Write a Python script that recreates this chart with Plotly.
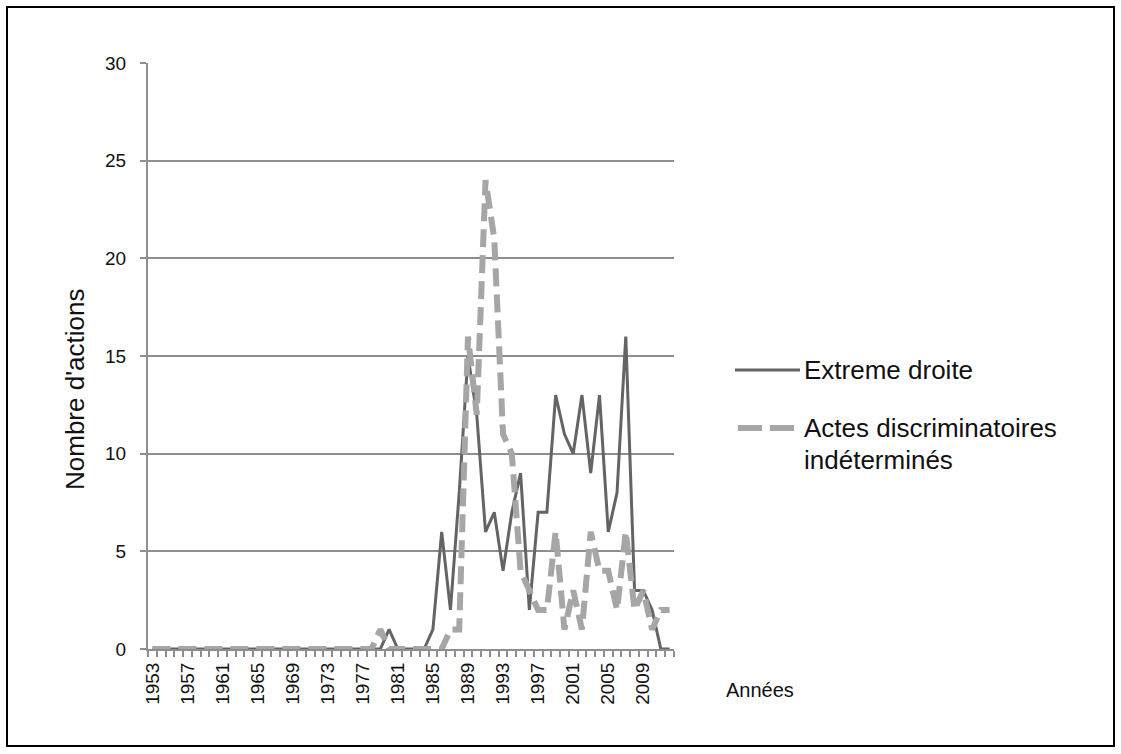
import plotly.graph_objects as go

# data
years = list(range(1953, 2013))
extreme_droite = [0, 0, 0, 0, 0, 0, 0, 0, 0, 0, 0, 0, 0, 0, 0, 0, 0, 0, 0, 0,
                  0, 0, 0, 0, 0, 0, 0, 1, 0, 0, 0, 0, 1, 6, 2, 8, 15, 12, 6, 7,
                  4, 7, 9, 2, 7, 7, 13, 11, 10, 13, 9, 13, 6, 8, 16, 3, 3, 2, 0, 0]
actes_indet = [0, 0, 0, 0, 0, 0, 0, 0, 0, 0, 0, 0, 0, 0, 0, 0, 0, 0, 0, 0,
               0, 0, 0, 0, 0, 0, 1, 0, 0, 0, 0, 0, 0, 0, 1, 1, 16, 12, 24, 21,
               11, 10, 4, 3, 2, 2, 6, 1, 3, 1, 6, 4, 4, 2, 6, 2, 3, 1, 2, 2]
tick_years = years[::4]

W, H = 1121, 754
L, R, T, B = 148, 447, 63, 105
pw, ph = W - L - R, H - T - B

def px(x):
    return (x - L) / pw

def py(y):
    return (H - B - y) / ph

dark = '#646464'
light = '#a6a6a6'
grid = '#8e8e8e'
font = 'Liberation Sans, Arial, sans-serif'

fig = go.Figure()

fig.add_trace(go.Scatter(
    x=years, y=extreme_droite, mode='lines', name='Extreme droite',
    line=dict(color=dark, width=3), showlegend=False))

fig.add_trace(go.Scatter(
    x=years, y=actes_indet, mode='lines', name='Actes discriminatoires indéterminés',
    line=dict(color=light, width=6, dash='18px,8px'), showlegend=False))

fig.update_layout(
    width=W, height=H, autosize=False,
    margin=dict(l=L, r=R, t=T, b=B),
    paper_bgcolor='white', plot_bgcolor='white',
    font=dict(family=font, size=18, color='#111111'),
    xaxis=dict(
        range=[1952.5, 2012.5], tickvals=tick_years,
        ticktext=[str(y) for y in tick_years], tickangle=-90,
        ticks='', showgrid=False, zeroline=False,
        showline=True, linecolor=grid, linewidth=2,
        tickfont=dict(size=19), ticklabelstandoff=4,
        minor=dict(ticks='outside', tick0=1952.5, dtick=1, ticklen=6,
                   tickcolor=grid, tickwidth=1.5, showgrid=False),
    ),
    yaxis=dict(
        range=[0, 30], dtick=5, showgrid=True, gridcolor=grid, gridwidth=2,
        zeroline=False, showline=True, linecolor=grid, linewidth=2,
        ticks='outside', ticklen=6, tickcolor=grid, tickwidth=2,
        tickfont=dict(size=19), ticklabelstandoff=10,
    ),
)

# y title sits a little below the plot centre in the original
fig.add_annotation(x=px(75), y=py(389), xref='paper', yref='paper',
                   text="Nombre d'actions", showarrow=False, textangle=-90,
                   xanchor='center', yanchor='middle', font=dict(size=26))

# x title placed beside the labels
fig.add_annotation(x=px(724), y=py(690), xref='paper', yref='paper',
                   text='Années', showarrow=False, xanchor='left', yanchor='middle',
                   font=dict(size=20))

# legend drawn by hand
fig.add_shape(type='line', xref='paper', yref='paper',
              x0=px(735), x1=px(800), y0=py(370), y1=py(370),
              line=dict(color=dark, width=3))
fig.add_annotation(x=px(802), y=py(370), xref='paper', yref='paper',
                   text='Extreme droite', showarrow=False,
                   xanchor='left', yanchor='middle', font=dict(size=26))
fig.add_shape(type='line', xref='paper', yref='paper',
              x0=px(738), x1=px(800), y0=py(428), y1=py(428),
              line=dict(color=light, width=6, dash='24px,8px'))
fig.add_annotation(x=px(802), y=py(428), xref='paper', yref='paper',
                   text='Actes discriminatoires', showarrow=False,
                   xanchor='left', yanchor='middle', font=dict(size=26))
fig.add_annotation(x=px(802), y=py(460), xref='paper', yref='paper',
                   text='indéterminés', showarrow=False,
                   xanchor='left', yanchor='middle', font=dict(size=26))

# outer frame
fig.add_shape(type='rect', xref='paper', yref='paper',
              x0=px(7), x1=px(1114), y0=py(746), y1=py(7),
              line=dict(color='black', width=2))

fig.write_html("out.html", config={'displayModeBar': False},
               post_script="document.body.style.margin='0';"
                           "document.body.style.overflow='hidden';")
